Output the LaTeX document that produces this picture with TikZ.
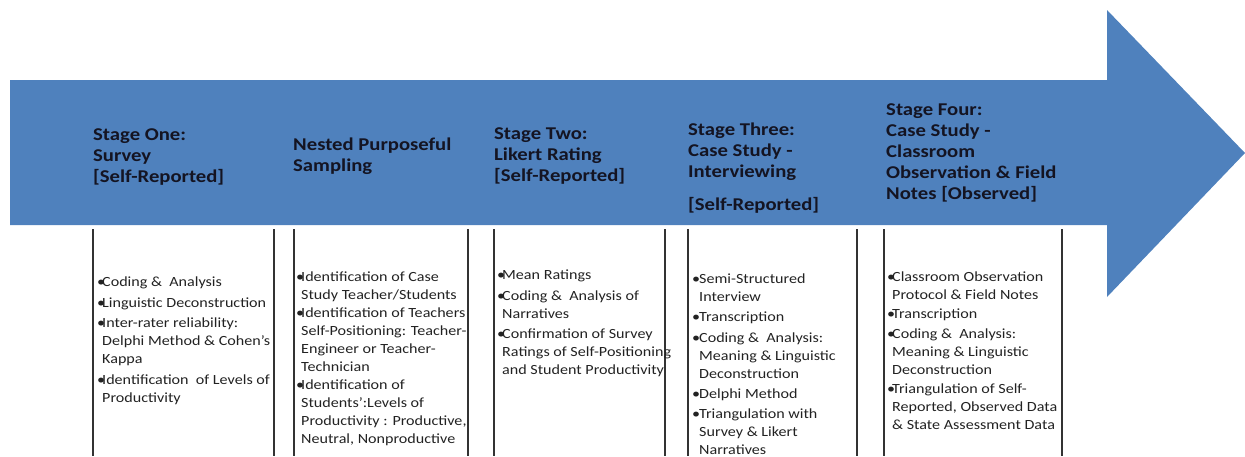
\documentclass[tikz,border=0pt]{standalone}
\usepackage{fontspec}
\setmainfont{Carlito}[FakeStretch=1.15]
\definecolor{arrowblue}{HTML}{4F81BD}
\definecolor{headtxt}{HTML}{141422}
\definecolor{bodytxt}{HTML}{222222}
\definecolor{linecol}{HTML}{333333}
\newcommand{\hb}{\makebox[5pt][l]{\textbullet}}
\newcommand{\hi}{\hspace*{5pt}}
\newcommand{\hbw}{\makebox[7pt][l]{\textbullet}}
\newcommand{\hiw}{\hspace*{7pt}}
\tikzset{
  head/.style={anchor=north west, inner sep=0pt, align=left, text=headtxt,
    font=\fontsize{18}{21}\selectfont\bfseries},
  body/.style={anchor=north west, inner sep=0pt, align=left, text=bodytxt,
    font=\fontsize{14}{18}\selectfont},
  side/.style={draw=linecol, line width=1.4pt}
}
\begin{document}
\begin{tikzpicture}[x=1pt,y=-1pt]
\useasboundingbox (0,0) rectangle (1245,456);
% big arrow
\fill[arrowblue] (10,80) -- (1107,80) -- (1107,10) -- (1245,153) -- (1107,297) -- (1107,225) -- (10,225) -- cycle;
% headers
\node[head] (h1) at (93,125.3) {\strut Stage One:\\Survey\\{[}Self-Reported{]}};
\node[head] (h2) at (293,135.3) {\strut Nested Purposeful\\Sampling};
\node[head] (h3) at (494,124.3) {\strut Stage Two:\\Likert Rating\\{[}Self-Reported{]}};
\node[head] (h4) at (688,120.3) {\strut Stage Three:\\Case Study -\\Interviewing\\[12pt]{[}Self-Reported{]}};
\node[head] (h5) at (886,100.3) {\strut Stage Four:\\Case Study -\\Classroom\\Observation \& Field\\Notes {[}Observed{]}};
% box sides
\foreach \x/\n in {93/a,274/b,294/c,468/d,494/e,665/f,688/g,857/h,884/i,1062/j}{
  \coordinate (t\n) at (\x,229);
  \coordinate (b\n) at (\x,456);
  \draw[side] (t\n) -- (b\n);
}
% body texts
\node[body] (c1) at (97,273.4) {\strut\hb Coding \&\ \ Analysis\\[3pt]
\hb Linguistic Deconstruction\\[2pt]
\hb Inter-rater reliability:\\
\hi Delphi Method \& Cohen's\\
\hi Kappa\\[3pt]
\hb Identification\ \ of Levels of\\
\hi Productivity};
\node[body] (c2) at (296,268.4) {\strut\hb Identification of Case\\
\hi Study Teacher/Students\\
\hb Identification of Teachers\\
\hi Self-Positioning: Teacher-\\
\hi Engineer or Teacher-\\
\hi Technician\\
\hb Identification of\\
\hi Students':Levels of\\
\hi Productivity : Productive,\\
\hi Neutral, Nonproductive};
\node[body] (c3) at (497,266.4) {\strut\hb Mean Ratings\\[3pt]
\hb Coding \&\ \ Analysis of\\
\hi Narratives\\[2pt]
\hb Confirmation of Survey\\
\hi Ratings of Self-Positioning\\
\hi and Student Productivity};
\node[body] (c4) at (692,270.4) {\strut\hbw Semi-Structured\\
\hiw Interview\\[2pt]
\hbw Transcription\\[3pt]
\hbw Coding \&\ \ Analysis:\\
\hiw Meaning \& Linguistic\\
\hiw Deconstruction\\[2pt]
\hbw Delphi Method\\[2pt]
\hbw Triangulation with\\
\hiw Survey \& Likert\\
\hiw Narratives};
\node[body] (c5) at (887,268.4) {\strut\hb Classroom Observation\\
\hi Protocol \& Field Notes\\[1pt]
\hb Transcription\\[2pt]
\hb Coding \&\ \ Analysis:\\
\hi Meaning \& Linguistic\\
\hi Deconstruction\\[1pt]
\hb Triangulation of Self-\\
\hi Reported, Observed Data\\
\hi \& State Assessment Data};
\end{tikzpicture}
\end{document}
